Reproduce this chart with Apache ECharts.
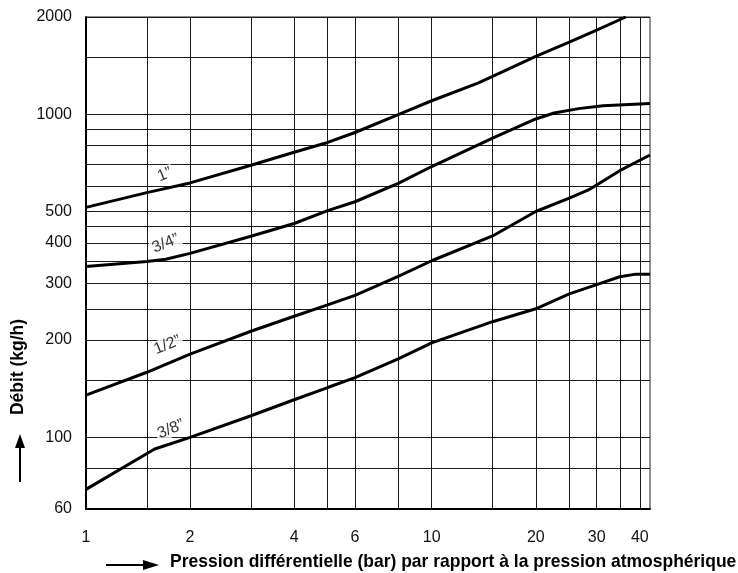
<!DOCTYPE html>
<html><head><meta charset="utf-8">
<script src="https://cdn.jsdelivr.net/npm/echarts@6/dist/echarts.min.js"></script>
<style>html,body{margin:0;padding:0;background:#fff}#c{width:738px;height:573px}</style>
</head><body><div id="c"></div>
<script>
// Axis grid / tick values
const xGrid = [1, 1.5, 2, 3, 4, 5, 6, 8, 10, 15, 20, 25, 30, 35, 40];
const xLabels = [1, 2, 4, 6, 10, 20, 30, 40];
const yGrid = [60, 80, 100, 150, 200, 250, 300, 350, 400, 450, 500, 600, 700, 800, 900, 1000, 1500, 2000];
const yLabels = [60, 100, 200, 300, 400, 500, 1000, 2000];

// Curve 1"
const p1 = [1, 1.5, 2, 3, 4, 5, 6, 8, 10, 13.6, 15, 20, 25, 30, 36.4];
const q1 = [515, 572, 613, 695, 763, 818, 878, 998, 1101, 1249, 1310, 1510, 1671, 1822, 2000];
// Curve 3/4"
const p34 = [1, 1.5, 1.7, 2, 3, 4, 5, 6, 8, 10, 15, 20, 22.6, 26.6, 31.3, 42.8];
const q34 = [338, 350, 356, 371, 419, 459, 503, 536, 611, 689, 843, 967, 1009, 1041, 1062, 1080];
// Curve 1/2"
const p12 = [1, 1.5, 2, 3, 4, 5, 6, 8, 10, 15, 20, 25, 28.4, 35, 42.8];
const q12 = [135, 159, 181, 213, 237, 257, 275, 315, 352, 420, 500, 550, 583, 669, 748];
// Curve 3/8"
const p38 = [1, 1.58, 2, 3, 4, 5, 6, 8, 10, 15, 20, 25, 30, 35, 39, 42.8];
const q38 = [69, 92, 100, 116.6, 130.7, 142.6, 153, 175, 196, 228, 250, 278, 297, 314, 320, 320];

// Curve name labels, anchored in data units
const labelNames = ['1\u201D', '3/4\u201D', '1/2\u201D', '3/8\u201D'];
const labelP = [1.69, 1.70, 1.72, 1.76];
const labelQ = [650, 398, 193, 106];

const xMin = 1, xMax = 42.8, yMin = 60, yMax = 2000;

const zip = (a, b) => a.map((v, i) => [v, b[i]]);
const FONT = 'Liberation Sans';

const curveStyle = { color: '#000', width: 3 };
function curve(name, p, q) {
  return { name, type: 'line', data: zip(p, q), showSymbol: false, symbol: 'none',
    lineStyle: curveStyle, itemStyle: { color: '#000' }, smooth: false, z: 5, silent: true };
}

const chart = echarts.init(document.getElementById('c'), null, { renderer: 'canvas' });
chart.setOption({
  animation: false,
  backgroundColor: '#fff',
  grid: { left: 86, right: 88, top: 17, bottom: 64, show: true, borderColor: '#222', borderWidth: 1 },
  xAxis: {
    type: 'log', logBase: 10, min: xMin, max: xMax,
    axisLine: { show: true, onZero: false, lineStyle: { color: '#000', width: 2 } },
    axisTick: { show: false, customValues: xGrid },
    axisLabel: { customValues: xLabels, margin: 21, color: '#111', fontFamily: FONT, fontSize: 16,
      formatter: v => String(Math.round(v)) },
    splitLine: { show: true, lineStyle: { color: '#1a1a1a', width: 1 } },
    minorSplitLine: { show: false }
  },
  yAxis: {
    type: 'log', logBase: 10, min: yMin, max: yMax,
    axisLine: { show: true, onZero: false, lineStyle: { color: '#000', width: 2 } },
    axisTick: { show: false, customValues: yGrid },
    axisLabel: { customValues: yLabels, margin: 14, color: '#111', fontFamily: FONT, fontSize: 16,
      formatter: v => String(Math.round(v)) },
    splitLine: { show: true, lineStyle: { color: '#1a1a1a', width: 1 } }
  },
  series: [
    curve('1"', p1, q1),
    curve('3/4"', p34, q34),
    curve('1/2"', p12, q12),
    curve('3/8"', p38, q38),
    {
      type: 'scatter', symbolSize: 0, z: 10, silent: true,
      data: labelNames.map((n, i) => ({ value: [labelP[i], labelQ[i]], name: n })),
      label: { show: true, position: 'inside', formatter: '{b}', rotate: 22, color: '#000',
        fontFamily: FONT, fontSize: 16, backgroundColor: '#fff', padding: [0, 2] }
    }
  ],
  graphic: [
    { type: 'text', rotation: Math.PI / 2, x: 18, y: 367, scaleX: 0.92,
      style: { text: 'Débit (kg/h)', font: 'bold 19px "Liberation Sans"', fill: '#000',
        align: 'center', verticalAlign: 'middle' } },
    { type: 'line', shape: { x1: 20, y1: 482, x2: 20, y2: 446 }, style: { stroke: '#000', lineWidth: 2 } },
    { type: 'polygon', shape: { points: [[20, 434], [15, 448], [25, 448]] }, style: { fill: '#000' } },
    { type: 'line', shape: { x1: 106, y1: 565, x2: 146, y2: 565 }, style: { stroke: '#000', lineWidth: 2 } },
    { type: 'polygon', shape: { points: [[159, 565], [143, 560], [143, 570]] }, style: { fill: '#000' } },
    { type: 'text', x: 170, y: 562, scaleX: 0.92,
      style: { text: 'Pression différentielle (bar) par rapport à la pression atmosphérique',
        font: 'bold 19px "Liberation Sans"', fill: '#000', align: 'left', verticalAlign: 'middle' } }
  ]
});
</script></body></html>
